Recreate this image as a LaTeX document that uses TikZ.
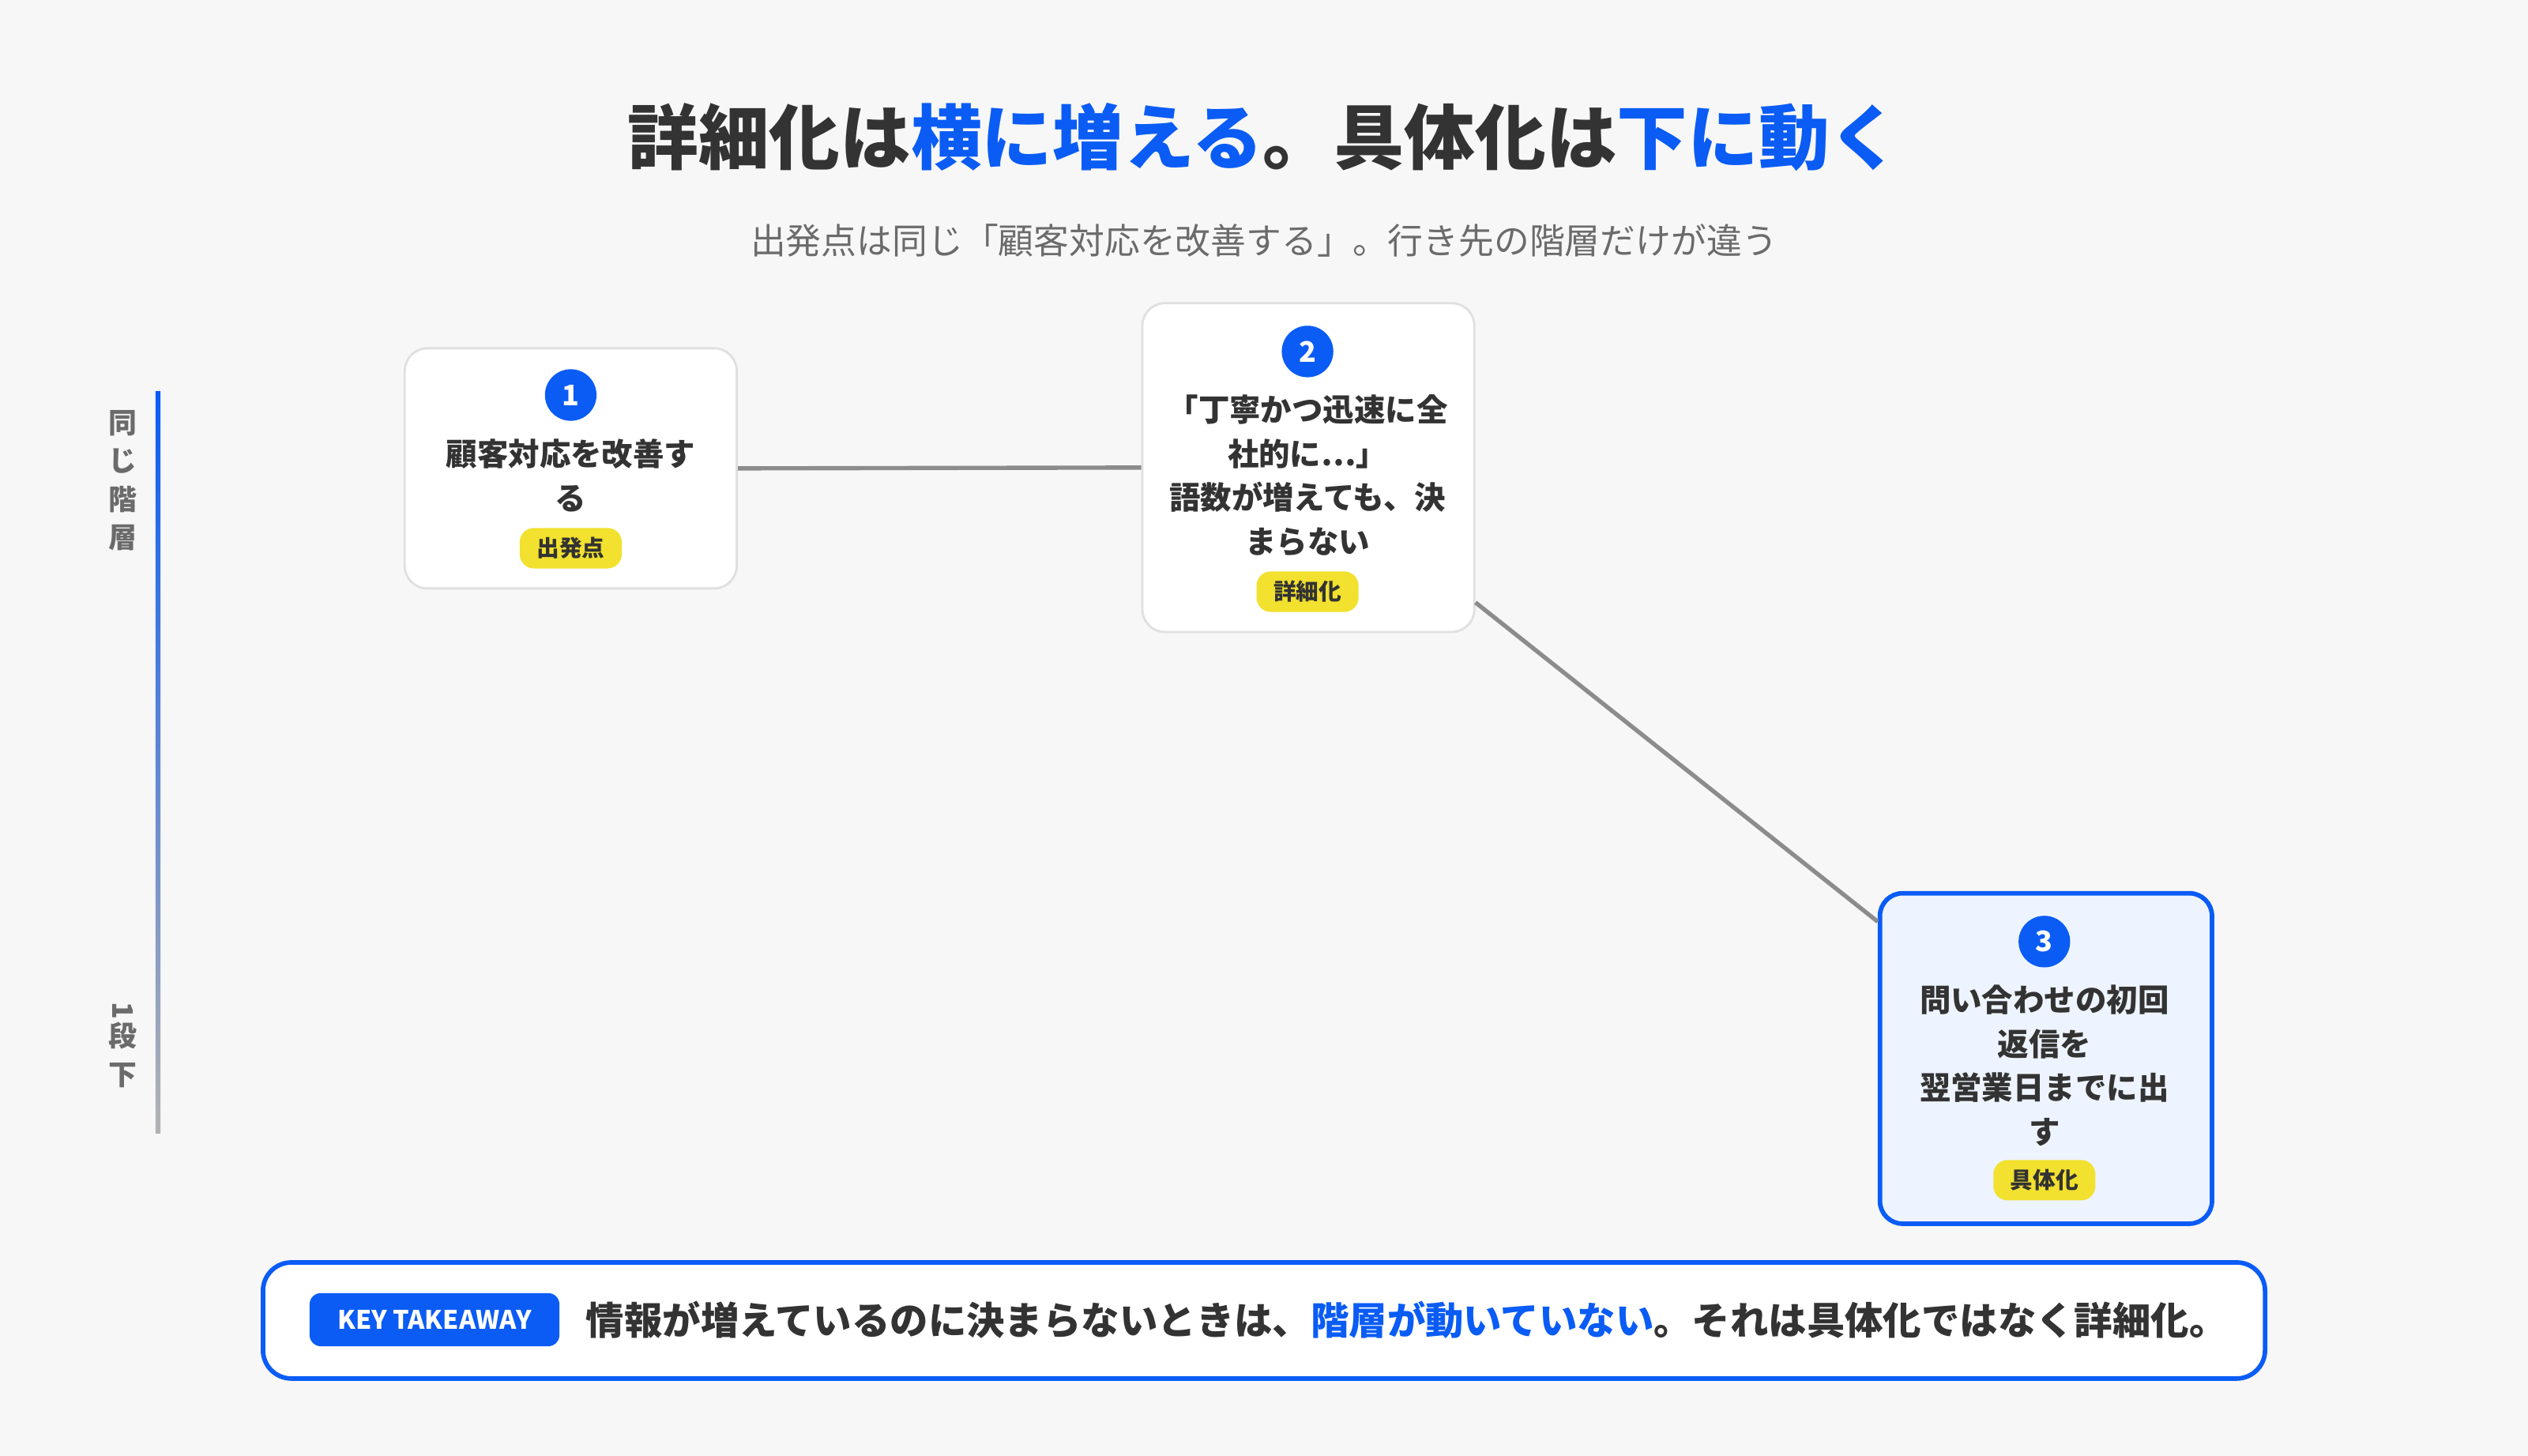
\documentclass[tikz,border=0pt]{standalone}
\usepackage{fontspec}
\setmainfont{Noto Sans CJK JP}
\usetikzlibrary{positioning, calc}
\definecolor{accentblue}{HTML}{0A5CF5}
\definecolor{inkdark}{HTML}{333333}
\definecolor{inkgray}{HTML}{6B6B6B}
\definecolor{bgcolor}{HTML}{F7F7F7}
\definecolor{badgeyellow}{HTML}{F2E12E}
\definecolor{lightblue}{HTML}{EEF4FF}

\begin{document}
\begin{tikzpicture}[x=0.02cm, y=-0.02cm,
  card/.style={rectangle, draw=black!12, line width=0.8pt, fill=white, rounded corners=8pt, minimum width=4.12cm},
  focus/.style={card, draw=accentblue, line width=1.6pt, fill=lightblue},
  num/.style={circle, fill=accentblue, text=white, font=\fontsize{10}{10}\selectfont\bfseries, minimum size=0.64cm, inner sep=0pt},
  body/.style={font=\fontsize{11}{15.5}\selectfont\bfseries, text=inkdark, align=center},
  badge/.style={rectangle, rounded corners=5pt, fill=badgeyellow, text=inkdark, font=\fontsize{8}{8}\selectfont\bfseries, minimum height=0.46cm, inner xsep=6pt},
  link/.style={draw=black!45, line width=1.5pt},
  axislabel/.style={font=\fontsize{10}{13.5}\selectfont\bfseries, text=inkgray, align=center}
]
  % Background
  \fill[bgcolor] (0,0) rectangle (1568,903);
  \useasboundingbox (0,0) rectangle (1568,903);

  % Heading
  \node[font=\fontsize{25}{25}\selectfont\bfseries, text=inkdark] (title) at (784,85)
    {詳細化は\textcolor{accentblue}{横に増える}。具体化は\textcolor{accentblue}{下に動く}};
  \node[font=\fontsize{12.5}{12.5}\selectfont, text=inkgray] (sub) at (784,149)
    {出発点は同じ「顧客対応を改善する」。行き先の階層だけが違う};

  % Level axis
  \shade[top color=accentblue, bottom color=black!30] (96.5,243) rectangle (99.5,703);
  \node[axislabel] (lvsame) at (76,298) {同\\じ\\階\\層};
  \node[axislabel] (lvdown) at (76,648) {\rotatebox{-90}{1}\\段\\下};

  % Cards
  \node[card, minimum height=2.98cm] (box1) at (354,290.5) {};
  \node[num] (n1) at (354,245) {1};
  \node[body] (t1) at (354,295) {顧客対応を改善す\\る};
  \node[badge] (b1) at (354,340) {出発点};

  \node[card, minimum height=4.08cm] (box2) at (811.5,290) {};
  \node[num] (n2) at (811,218) {2};
  \node[body] (t2) at (811,295) {「丁寧かつ迅速に全\\社的に…」\\語数が増えても、決\\まらない};
  \node[badge] (b2) at (811,367) {詳細化};

  \node[focus, minimum height=4.1cm] (box3) at (1269,656.5) {};
  \node[num] (n3) at (1268,584) {3};
  \node[body] (t3) at (1268,661) {問い合わせの初回\\返信を\\翌営業日までに出\\す};
  \node[badge] (b3) at (1268,732) {具体化};

  % Connectors
  \draw[link] (box1.east) -- (box2.west);
  \draw[link] ([yshift=0.38cm]box2.south east) -- ([yshift=-0.38cm]box3.north west);

  % Takeaway
  \node[rectangle, draw=accentblue, line width=1.6pt, fill=white, rounded corners=10pt,
    minimum width=24.84cm, minimum height=1.44cm] (take) at (784,819) {};
  \node[rectangle, rounded corners=4pt, fill=accentblue, text=white,
    font=\fontsize{9}{9}\selectfont\bfseries, minimum width=3.1cm, minimum height=0.66cm] (key) at (269.5,818.5) {KEY TAKEAWAY};
  \node[right=0.2cm of key, font=\fontsize{13.5}{13.5}\selectfont\bfseries, text=inkdark] (msg)
    {情報が増えているのに決まらないときは、\textcolor{accentblue}{階層が動いていない}。それは具体化ではなく詳細化。};
\end{tikzpicture}
\end{document}
